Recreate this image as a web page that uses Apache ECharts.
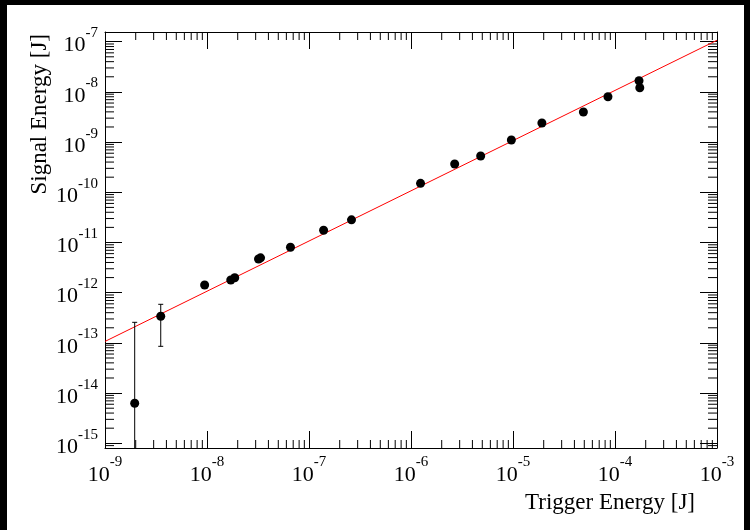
<!DOCTYPE html>
<html>
<head>
  <meta charset="UTF-8">
  <title>Signal vs Trigger Energy</title>
  <script src="https://cdn.jsdelivr.net/npm/echarts@6/dist/echarts.min.js"></script>
  <style>
    html, body { margin: 0; padding: 0; background: #000; }
  </style>
</head>
<body>
  <div id="chart" style="width: 750px; height: 530px"></div>
  <script>
    // axis ranges (log)
    var xMin = 1e-9, xMax = 1e-3;
    var yMin = 8.06e-16, yMax = 1.56e-7;

    // measured points
    var triggerE = [1.955e-9, 3.52e-9, 9.48e-9, 1.71e-8, 1.87e-8, 3.2e-8, 3.35e-8, 6.58e-8, 1.39e-7, 2.61e-7,
                    1.24e-6, 2.68e-6, 4.82e-6, 9.64e-6, 1.92e-5, 4.90e-5, 8.53e-5, 1.72e-4, 1.75e-4];
    var signalE = [6.27e-15, 3.39e-13, 1.42e-12, 1.79e-12, 1.99e-12, 4.7e-12, 4.95e-12, 8.02e-12, 1.75e-11, 2.83e-11,
                   1.51e-10, 3.66e-10, 5.28e-10, 1.10e-9, 2.40e-9, 3.98e-9, 8.02e-9, 1.67e-8, 1.21e-8];

    // error bars (only the two lowest points have visible ones)
    var errX = [1.955e-9, 3.52e-9];
    var errLow = [1e-16, 8.55e-14];
    var errHigh = [2.57e-13, 5.87e-13];

    // fit line
    var fitX = [1e-9, 1e-3];
    var fitY = [1.07e-13, 1.07e-7];

    // minor ticks 2..9 in every decade
    function minorTicks(lo, hi) {
      var out = [];
      for (var e = Math.floor(Math.log10(lo)); e <= Math.ceil(Math.log10(hi)); e++) {
        for (var m = 2; m <= 9; m++) {
          var v = m * Math.pow(10, e);
          if (v > lo && v < hi) out.push(v);
        }
      }
      return out;
    }
    var xMinor = minorTicks(xMin, xMax);
    var yMinor = minorTicks(yMin, yMax);

    var font = '"Liberation Serif", "DejaVu Serif", serif';
    var richLabel = {
      b: { fontSize: 22, fontFamily: font, color: '#000', lineHeight: 40 },
      e: { fontSize: 15, fontFamily: font, color: '#000', lineHeight: 10, verticalAlign: 'top' }
    };
    function powLabel(v) {
      var l = Math.log10(v);
      var e = Math.round(l);
      if (Math.abs(l - e) > 1e-6) return '';
      return '{b|10}{e|' + e + '}';
    }

    var tickStyle = { inside: true, length: 17, lineStyle: { color: '#000', width: 1 } };
    var lineStyle = { show: true, lineStyle: { color: '#000', width: 1 } };

    var chart = echarts.init(document.getElementById('chart'));
    var option = {
      backgroundColor: '#000',
      animation: false,
      graphic: [
        { type: 'rect', z: -100, shape: { x: 7, y: 5, width: 737, height: 525 }, style: { fill: '#fff' } },
        { type: 'text', x: 695, y: 503,
          style: { text: 'Trigger Energy [J]', font: '23px ' + font, fill: '#000', textAlign: 'right', textVerticalAlign: 'middle' } },
        { type: 'text', x: 40, y: 34, rotation: Math.PI / 2,
          style: { text: 'Signal Energy [J]', font: '23px ' + font, fill: '#000', textAlign: 'right', textVerticalAlign: 'middle' } }
      ],
      grid: { left: 105, right: 33, top: 32, bottom: 82 },
      xAxis: [
        { type: 'log', logBase: 10, min: xMin, max: xMax, position: 'bottom',
          axisLine: lineStyle, axisTick: tickStyle, splitLine: { show: false },
          axisLabel: { formatter: powLabel, rich: richLabel, margin: 7 } },
        { type: 'log', logBase: 10, min: xMin, max: xMax, position: 'top',
          axisLine: lineStyle, axisTick: tickStyle, splitLine: { show: false },
          axisLabel: { show: false } }
      ],
      yAxis: [
        { type: 'log', logBase: 10, min: yMin, max: yMax, position: 'left',
          axisLine: lineStyle, axisTick: tickStyle, splitLine: { show: false },
          axisLabel: { formatter: powLabel, rich: richLabel, margin: 7, padding: [8, 0, 0, 0] } },
        { type: 'log', logBase: 10, min: yMin, max: yMax, position: 'right',
          axisLine: lineStyle, axisTick: tickStyle, splitLine: { show: false },
          axisLabel: { show: false } }
      ],
      series: [
        {
          type: 'custom', silent: true, clip: false,
          data: xMinor.map(function (v) { return [v, yMin]; }),
          renderItem: function (params, api) {
            var b = api.coord([api.value(0), yMin]);
            var t = api.coord([api.value(0), yMax]);
            var s = { stroke: '#000', lineWidth: 1 };
            return { type: 'group', children: [
              { type: 'line', shape: { x1: b[0], y1: b[1], x2: b[0], y2: b[1] - 8 }, style: s },
              { type: 'line', shape: { x1: t[0], y1: t[1], x2: t[0], y2: t[1] + 8 }, style: s }
            ] };
          }
        },
        {
          type: 'custom', silent: true, clip: false,
          data: yMinor.map(function (v) { return [xMin, v]; }),
          renderItem: function (params, api) {
            var l = api.coord([xMin, api.value(1)]);
            var r = api.coord([xMax, api.value(1)]);
            var s = { stroke: '#000', lineWidth: 1 };
            return { type: 'group', children: [
              { type: 'line', shape: { x1: l[0], y1: l[1], x2: l[0] + 9, y2: l[1] }, style: s },
              { type: 'line', shape: { x1: r[0], y1: r[1], x2: r[0] - 9, y2: r[1] }, style: s }
            ] };
          }
        },
        {
          type: 'line', silent: true, symbol: 'none',
          data: fitX.map(function (x, i) { return [x, fitY[i]]; }),
          lineStyle: { color: '#ff0000', width: 1 }, z: 3
        },
        {
          type: 'custom', clip: true, z: 4,
          data: errX.map(function (x, i) { return [x, errLow[i], errHigh[i]]; }),
          renderItem: function (params, api) {
            var lo = api.coord([api.value(0), api.value(1)]);
            var hi = api.coord([api.value(0), api.value(2)]);
            var s = { stroke: '#000', lineWidth: 1 };
            return { type: 'group', children: [
              { type: 'line', shape: { x1: lo[0], y1: lo[1], x2: hi[0], y2: hi[1] }, style: s },
              { type: 'line', shape: { x1: hi[0] - 2.5, y1: hi[1], x2: hi[0] + 2.5, y2: hi[1] }, style: s },
              { type: 'line', shape: { x1: lo[0] - 2.5, y1: lo[1], x2: lo[0] + 2.5, y2: lo[1] }, style: s }
            ] };
          }
        },
        {
          type: 'scatter', symbol: 'circle', symbolSize: 9, z: 5,
          data: triggerE.map(function (x, i) { return [x, signalE[i]]; }),
          itemStyle: { color: '#000', opacity: 1 }
        }
      ]
    };
    chart.setOption(option);
  </script>
</body>
</html>
